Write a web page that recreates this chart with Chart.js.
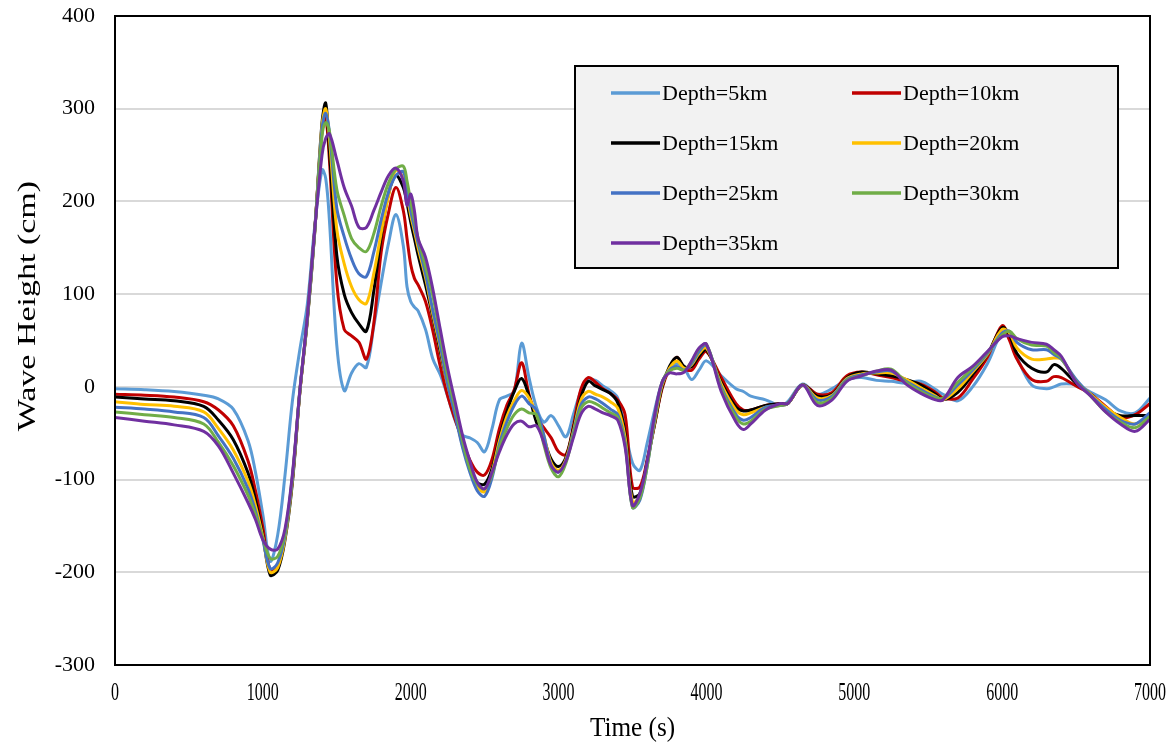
<!DOCTYPE html>
<html>
<head>
<meta charset="utf-8">
<script src="https://cdn.jsdelivr.net/npm/chart.js@4/dist/chart.umd.min.js"></script>
<style>
  html, body { margin: 0; padding: 0; background: #fff; }
  #wrap { width: 1171px; height: 748px; position: relative; }
</style>
</head>
<body>
<div id="wrap"><canvas id="myChart"></canvas></div>
<script>
// time (s), shared by all series
const times = [
  0, 200, 400, 600, 700, 800, 900, 950, 1000, 1050,
  1100, 1150, 1200, 1250, 1300, 1350, 1400, 1425, 1450, 1500,
  1550, 1600, 1650, 1700, 1750, 1800, 1850, 1900, 1950, 1975, 2000,
  2025, 2050, 2100, 2150, 2200, 2250, 2300, 2350, 2400, 2450, 2500,
  2550, 2600, 2650, 2700, 2750, 2800, 2850, 2900, 2950, 3000,
  3050, 3100, 3150, 3200, 3250, 3300, 3350, 3400, 3450, 3500,
  3550, 3600, 3650, 3700, 3750, 3800, 3850, 3900, 3950, 4000,
  4100, 4200, 4250, 4300, 4400, 4500, 4550, 4650, 4750, 4850,
  4950, 5050, 5150, 5250, 5350, 5450, 5550, 5600, 5700, 5800,
  5900, 6000, 6050, 6100, 6200, 6300, 6350, 6400, 6500, 6600,
  6700, 6800, 6900, 7000
];

// wave height (cm)
const depth5 = [
  -2, -3, -5, -9, -13, -24, -58, -92, -138, -188,
  -160, -95, -15, 40, 88, 172, 234, 225, 180, 45,
  -4, 15, 25, 21, 65, 112, 155, 186, 152, 108, 92,
  86, 82, 62, 30, 13, -10, -36, -52, -55, -60, -70,
  -45, -14, -10, -5, 47, 10, -22, -38, -31, -42,
  -54, -30, -5, 8, 7, 1, -4, -12, -45, -82,
  -90, -60, -25, 5, 18, 25, 20, 8, 18, 28,
  12, -2, -5, -10, -14, -20, -16, 3, -8, -2,
  8, 10, 7, 6, 4, 6, -3, -8, -15, 0,
  25, 58, 52, 32, 2, -2, 0, 3, 2, -6,
  -14, -26, -28, -12
];
const depth10 = [
  -8, -9, -11, -16, -25, -42, -80, -112, -152, -198,
  -192, -160, -100, -6, 72, 168, 275, 290, 245, 112,
  62, 55, 48, 30, 68, 145, 188, 215, 190, 160, 132,
  117, 110, 92, 60, 22, -10, -35, -58, -79, -92, -95,
  -78, -45, -20, -3, 26, -8, -32, -44, -55, -70,
  -73, -42, -3, 10, 5, -2, -7, -14, -30, -108,
  -108, -78, -40, -2, 20, 32, 20, 18, 30, 38,
  10, -18, -25, -25, -20, -18, -18, 2, -8, -6,
  12, 16, 13, 10, 6, 3, -6, -12, -12, 8,
  32, 66, 50, 30, 8, 6, 11, 10, 1, -8,
  -21, -33, -30, -18
];
const depth15 = [
  -11, -13, -15, -21, -36, -57, -93, -122, -160, -203,
  -198, -165, -103, -6, 70, 165, 285, 306, 255, 142,
  100, 80, 68, 60, 103, 162, 208, 228, 215, 198, 178,
  160, 142, 110, 75, 38, 2, -27, -62, -86, -103, -105,
  -88, -55, -27, -5, 9, -10, -38, -56, -78, -86,
  -76, -45, -12, 6, 1, -3, -7, -17, -50, -118,
  -115, -80, -40, 0, 22, 32, 22, 22, 33, 40,
  5, -22, -26, -25, -20, -18, -18, 2, -10, -8,
  10, 16, 14, 12, 8, 2, -8, -14, -6, 13,
  35, 64, 56, 36, 20, 16, 24, 20, 4, -8,
  -24, -31, -31, -31
];
const depth20 = [
  -16, -19, -21, -27, -45, -68, -102, -128, -162, -200,
  -195, -163, -100, -5, 71, 165, 282, 300, 268, 170,
  133, 108, 94, 90, 122, 166, 206, 234, 225, 207, 185,
  168, 150, 118, 78, 42, 2, -28, -63, -89, -108, -113,
  -92, -58, -32, -15, -4, -12, -30, -52, -82, -90,
  -78, -48, -15, -5, -8, -11, -16, -23, -55, -124,
  -118, -82, -38, 2, 20, 28, 20, 24, 36, 42,
  3, -25, -30, -28, -22, -20, -18, 2, -12, -9,
  9, 14, 15, 15, 8, -1, -10, -14, -2, 16,
  35, 62, 58, 42, 30, 30, 31, 30, 6, -8,
  -22, -33, -40, -30
];
const depth25 = [
  -22, -24, -27, -33, -53, -77, -110, -134, -165, -196,
  -190, -160, -98, -4, 72, 166, 278, 295, 275, 193,
  162, 138, 122, 119, 145, 180, 210, 228, 232, 212, 190,
  172, 155, 122, 82, 45, 3, -30, -65, -92, -112, -118,
  -98, -62, -38, -20, -10, -18, -25, -52, -85, -92,
  -80, -50, -20, -11, -13, -18, -24, -30, -60, -130,
  -122, -85, -35, 4, 18, 22, 18, 25, 38, 45,
  0, -30, -36, -33, -22, -20, -18, 2, -14, -10,
  8, 13, 16, 17, 6, -3, -11, -13, 2, 18,
  36, 58, 60, 48, 40, 40, 35, 30, 8, -9,
  -24, -36, -40, -28
];
const depth30 = [
  -27, -30, -33, -40, -60, -85, -117, -138, -163, -185,
  -183, -157, -96, -5, 73, 167, 270, 285, 276, 213,
  185, 160, 150, 146, 165, 195, 220, 235, 238, 222, 200,
  180, 160, 130, 98, 55, 12, -22, -58, -88, -105, -110,
  -95, -65, -45, -30, -24, -28, -30, -62, -88, -97,
  -82, -52, -24, -16, -18, -23, -28, -33, -62, -130,
  -120, -85, -32, 5, 17, 20, 18, 27, 41, 46,
  -2, -33, -40, -37, -24, -20, -18, 2, -17, -12,
  7, 12, 17, 19, 5, -5, -12, -12, 5, 20,
  37, 56, 60, 52, 45, 44, 37, 31, 6, -10,
  -27, -38, -44, -32
];
const depth35 = [
  -33, -37, -41, -48, -64, -93, -125, -143, -165, -175,
  -175, -153, -94, -4, 74, 168, 250, 268, 273, 245,
  215, 195, 172, 172, 190, 210, 228, 236, 222, 196, 208,
  190, 160, 140, 105, 62, 20, -16, -52, -80, -103, -110,
  -92, -70, -52, -40, -37, -43, -42, -60, -85, -92,
  -80, -55, -30, -21, -24, -28, -31, -36, -65, -128,
  -115, -80, -30, 5, 15, 14, 16, 28, 42, 46,
  -5, -38, -46, -40, -25, -18, -18, 2, -20, -14,
  6, 12, 17, 18, 3, -7, -14, -14, 10, 22,
  38, 54, 55, 52, 48, 46, 40, 33, 5, -10,
  -27, -40, -48, -35
];

const seriesLabels = ['Depth=5km', 'Depth=10km', 'Depth=15km', 'Depth=20km', 'Depth=25km', 'Depth=30km', 'Depth=35km'];
const seriesColors = ['#5B9BD5', '#C00000', '#000000', '#FFC000', '#4472C4', '#70AD47', '#7030A0'];
const seriesValues = [depth5, depth10, depth15, depth20, depth25, depth30, depth35];

const yTicks = [-300, -200, -100, 0, 100, 200, 300, 400];
const xTicks = [0, 1000, 2000, 3000, 4000, 5000, 6000, 7000];

const SERIF = '"Liberation Serif", "Times New Roman", serif';

// axis labels, frame and boxed legend
const decor = {
    id: 'decor',
    afterDatasetsDraw(chart) {
        const ctx = chart.ctx;
        const a = chart.chartArea;
        const x = chart.scales.x, y = chart.scales.y;
        ctx.save();
        ctx.strokeStyle = '#000';
        ctx.lineWidth = 2;
        ctx.strokeRect(a.left, a.top, a.right - a.left, a.bottom - a.top);

        ctx.fillStyle = '#000';
        ctx.font = '22px ' + SERIF;
        ctx.textAlign = 'right';
        ctx.textBaseline = 'middle';
        yTicks.forEach(v => ctx.fillText(String(v), a.left - 20, y.getPixelForValue(v)));

        // x labels look condensed in the original
        ctx.font = '25px ' + SERIF;
        ctx.textAlign = 'center';
        xTicks.forEach(v => {
            ctx.save();
            ctx.translate(x.getPixelForValue(v), a.bottom + 28);
            ctx.scale(0.64, 1);
            ctx.fillText(String(v), 0, 0);
            ctx.restore();
        });
        ctx.save();
        ctx.font = '28px ' + SERIF;
        ctx.translate((a.left + a.right) / 2, a.bottom + 64);
        ctx.scale(0.9, 1);
        ctx.fillText('Time (s)', 0, 0);
        ctx.restore();

        ctx.save();
        ctx.font = '34px ' + SERIF;
        ctx.translate(28, 306);
        ctx.rotate(-Math.PI / 2);
        ctx.scale(1, 0.75);
        ctx.fillText('Wave Height (cm)', 0, 0);
        ctx.restore();

        // legend box
        const bx = 575, by = 66, bw = 543, bh = 202;
        ctx.fillStyle = '#F2F2F2';
        ctx.fillRect(bx, by, bw, bh);
        ctx.strokeStyle = '#000';
        ctx.lineWidth = 2;
        ctx.strokeRect(bx, by, bw, bh);
        ctx.font = '22px ' + SERIF;
        ctx.textAlign = 'left';
        chart.data.datasets.forEach((ds, i) => {
            const col = i % 2, row = Math.floor(i / 2);
            const lx = bx + 36 + col * 241;
            const ly = by + 27 + row * 50;
            ctx.strokeStyle = ds.borderColor;
            ctx.lineWidth = 3.5;
            ctx.beginPath();
            ctx.moveTo(lx, ly);
            ctx.lineTo(lx + 49, ly);
            ctx.stroke();
            ctx.fillStyle = '#000';
            ctx.fillText(ds.label, lx + 51, ly + 1);
        });
        ctx.restore();
    }
};

const datasets = seriesValues.map((vals, i) => ({
    label: seriesLabels[i],
    data: times.map((t, k) => ({ x: t, y: vals[k] })),
    borderColor: seriesColors[i],
    backgroundColor: seriesColors[i],
    borderWidth: 3,
    pointRadius: 0,
    tension: 0.35,
    fill: false,
    order: seriesValues.length - i
}));

new Chart(document.getElementById('myChart'), {
    type: 'line',
    data: { datasets: datasets },
    options: {
        responsive: true,
        maintainAspectRatio: false,
        animation: false,
        layout: { padding: { left: 115, right: 21, top: 16, bottom: 83 } },
        plugins: { legend: { display: false }, tooltip: { enabled: false } },
        scales: {
            x: {
                type: 'linear',
                min: 0,
                max: 7000,
                ticks: { display: false, stepSize: 1000 },
                grid: { display: false, drawTicks: false },
                border: { display: false }
            },
            y: {
                min: -300,
                max: 400,
                ticks: { display: false, stepSize: 100 },
                grid: { color: '#D9D9D9', lineWidth: 2, drawTicks: false },
                border: { display: false }
            }
        }
    },
    plugins: [decor]
});
</script>
</body>
</html>
